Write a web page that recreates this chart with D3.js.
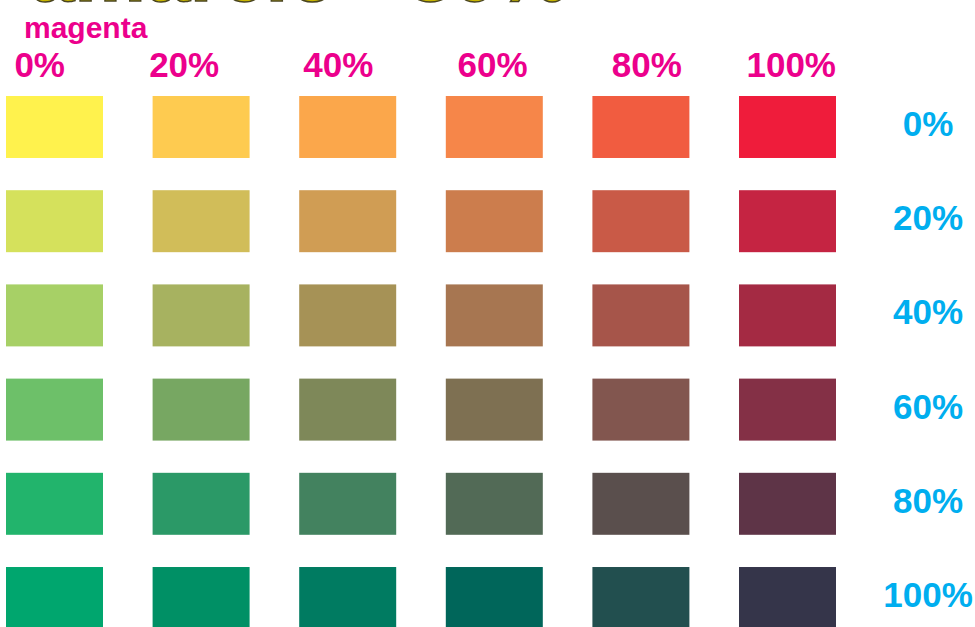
<!DOCTYPE html>
<html>
<head>
<meta charset="utf-8">
<script src="https://cdn.jsdelivr.net/npm/d3@7"></script>
<style>
  html, body { margin: 0; padding: 0; background: #fff; overflow: hidden; }
  svg { display: block; }
  text { font-family: "Liberation Sans", Arial, Helvetica, sans-serif; font-weight: bold; }
</style>
</head>
<body>
<svg id="chart" width="975" height="627"></svg>
<script>
const titleText = "amarelo - 80%";
const magentaTitle = "magenta";
const magentaLabels = ["0%", "20%", "40%", "60%", "80%", "100%"];
const cyanLabels = ["0%", "20%", "40%", "60%", "80%", "100%"];

// fill colours of each row (cyan level), one per magenta level
const rowCyan0   = ["#fff24d", "#fecb50", "#fba74b", "#f68649", "#f15c40", "#ef1c3b"];
const rowCyan20  = ["#d5e15c", "#d1bd59", "#d09d54", "#cc7d4d", "#c95a47", "#c52442"];
const rowCyan40  = ["#a7d066", "#a7b260", "#a69256", "#a77651", "#a6554a", "#a42a43"];
const rowCyan60  = ["#6dc069", "#77a762", "#7e8859", "#7e7052", "#82564f", "#843046"];
const rowCyan80  = ["#22b46c", "#2b9967", "#43825f", "#526a56", "#5a4f4d", "#5e3447"];
const rowCyan100 = ["#00a66e", "#009065", "#007b61", "#00665a", "#224f4f", "#35354a"];
const cellColors = [rowCyan0, rowCyan20, rowCyan40, rowCyan60, rowCyan80, rowCyan100];

const svg = d3.select("#chart");

const x = d3.scaleBand().domain(magentaLabels).range([6, 836]).paddingInner(0.3384);
const y = d3.scaleBand().domain(cyanLabels).range([96, 629]).paddingInner(0.342);

// column label positions (right-aligned text ends)
const xLabel = d3.scaleLinear().domain([0, magentaLabels.length - 1]).range([65, 836]);

const cells = [];
cyanLabels.forEach((c, i) => magentaLabels.forEach((m, j) => cells.push({ c, m, color: cellColors[i][j] })));

svg.append("g").selectAll("rect")
  .data(cells)
  .join("rect")
  .attr("x", d => x(d.m))
  .attr("y", d => y(d.c))
  .attr("width", x.bandwidth())
  .attr("height", y.bandwidth())
  .attr("fill", d => d.color);

// title (clipped at top like the reference)
svg.append("text")
  .attr("x", 30)
  .attr("y", 1)
  .attr("font-size", 80)
  .attr("fill", "#c9b600")
  .attr("stroke", "#4a4520")
  .attr("stroke-width", 1.5)
  .text(titleText);

svg.append("text")
  .attr("x", 24)
  .attr("y", 38)
  .attr("font-size", 30)
  .attr("fill", "#ec008c")
  .text(magentaTitle);

svg.append("g").selectAll("text")
  .data(magentaLabels)
  .join("text")
  .attr("x", (d, i) => xLabel(i))
  .attr("y", 77)
  .attr("text-anchor", "end")
  .attr("font-size", 35)
  .attr("fill", "#ec008c")
  .text(d => d);

svg.append("g").selectAll("text")
  .data(cyanLabels)
  .join("text")
  .attr("x", 928)
  .attr("y", d => y(d) + y.bandwidth() / 2 + 9)
  .attr("text-anchor", "middle")
  .attr("font-size", 35)
  .attr("fill", "#00aeef")
  .text(d => d);
</script>
</body>
</html>
